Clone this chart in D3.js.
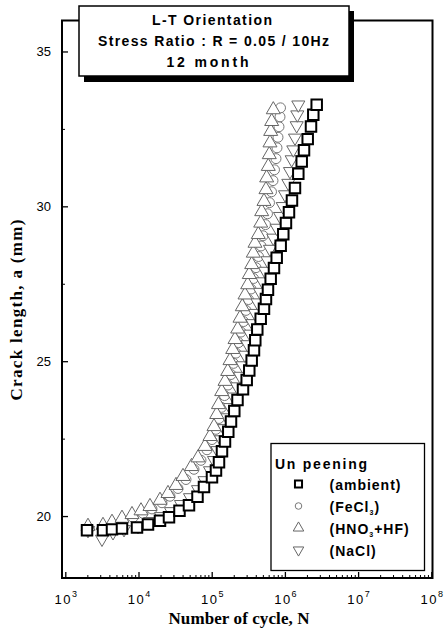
<!DOCTYPE html>
<html lang="en">

<head>
    <meta charset="UTF-8">
    <title>Crack length vs cycles</title>
    <style>
        body { margin: 0; background: #fff; }
    </style>
</head>

<body>
    <svg width="446" height="638"></svg>
    <script src="https://d3js.org/d3.v7.min.js"></script>
    <script>

        // ---- data ----
        let titleLines = ["L-T Orientation", "Stress Ratio : R = 0.05 / 10Hz", "12 month"];
        let xExponents = [3, 4, 5, 6, 7, 8];
        let yTicks = [20, 25, 30, 35];
        let yMinorTicks = [22.5, 27.5, 32.5];

        let cyclesAmbient = [1980, 3273, 4345, 5950, 9537, 13480, 19660, 26100, 36310, 48950, 63950, 78450,
            100900, 114400, 125800, 138200, 151900, 168500, 183500, 203500, 225100, 267600, 300700, 326100,
            351800, 378100, 393900, 419500, 467000, 518000, 551400, 587300, 639400, 709500, 772300, 875800,
            950500, 1034000, 1137000, 1249000, 1373000, 1525000, 1697000, 1824000, 2049000, 2273000, 2443000, 2719000];
        let lengthAmbient = [19.54, 19.54, 19.57, 19.60, 19.63, 19.73, 19.85, 19.96, 20.17, 20.35, 20.62, 20.94,
            21.25, 21.47, 21.74, 22.09, 22.41, 22.72, 23.05, 23.39, 23.75, 24.09, 24.39, 24.70,
            25.02, 25.35, 25.68, 26.02, 26.37, 26.69, 27.01, 27.31, 27.66, 28.01, 28.34, 28.73,
            29.10, 29.46, 29.81, 30.19, 30.59, 31.05, 31.45, 31.81, 32.17, 32.58, 32.96, 33.28];

        let cyclesFeCl = [2108, 3379, 4484, 6140, 8411, 11520, 15290, 20940, 26930, 34640, 44560, 57310,
            71410, 86270, 100900, 114400, 125800, 136100, 149600, 167000, 183500, 198500, 214700, 232400,
            251400, 271900, 294100, 318200, 344300, 372500, 402900, 435900, 471600, 502000, 543300, 578500,
            616000, 655900, 687600, 721000, 755800, 779800, 804700, 830400, 857400, 870900];
        let lengthFeCl = [19.60, 19.63, 19.73, 19.85, 19.96, 20.09, 20.23, 20.43, 20.64, 20.89, 21.18, 21.51,
            21.80, 22.14, 22.47, 22.80, 23.15, 23.51, 23.89, 24.23, 24.57, 24.93, 25.26, 25.60,
            25.94, 26.28, 26.64, 26.99, 27.33, 27.67, 28.02, 28.38, 28.72, 29.05, 29.41, 29.76,
            30.12, 30.47, 30.83, 31.18, 31.54, 31.89, 32.23, 32.57, 32.89, 33.18];

        let cyclesHNO = [2042, 3273, 4345, 5950, 8150, 10820, 14350, 19660, 25290, 32530, 40530, 52960,
            64970, 80950, 94800, 107500, 117000, 123800, 136900, 151900, 165400, 177800, 193600, 208200,
            226600, 243600, 261800, 285000, 310300, 326100, 351800, 369900, 390300, 433000, 467000, 481900,
            518000, 551400, 563600, 592900, 611900, 625600, 639400, 659900, 694100];
        let lengthHNO = [19.67, 19.70, 19.80, 19.93, 20.05, 20.17, 20.31, 20.51, 20.73, 20.99, 21.28, 21.60,
            21.88, 22.25, 22.57, 22.89, 23.28, 23.60, 24.02, 24.35, 24.67, 25.02, 25.38, 25.70,
            26.04, 26.39, 26.76, 27.14, 27.47, 27.80, 28.12, 28.49, 28.81, 29.09, 29.46, 29.83,
            30.16, 30.54, 30.92, 31.29, 31.67, 32.05, 32.42, 32.74, 33.12];

        let cyclesNaCl = [2042, 3172, 4484, 6339, 9843, 14350, 20290, 27790, 38060, 50520, 64970, 79720,
            94800, 107500, 120000, 134000, 147200, 161800, 177800, 198500, 221600, 243600, 263500, 285000,
            308400, 333600, 360900, 390300, 422500, 456800, 494300, 534800, 578500, 625600, 694100, 772700,
            857400, 933300, 1003000, 1113000, 1174000, 1238000, 1302000, 1374000, 1449000, 1477000, 1525000];
        let lengthNaCl = [19.54, 19.26, 19.47, 19.57, 19.67, 19.83, 19.99, 20.15, 20.38, 20.60, 20.86, 21.15,
            21.47, 21.80, 22.12, 22.47, 22.83, 23.18, 23.51, 23.85, 24.18, 24.52, 24.86, 25.20,
            25.54, 25.88, 26.22, 26.55, 26.89, 27.23, 27.57, 27.91, 28.25, 28.62, 28.98, 29.30,
            29.68, 30.00, 30.38, 30.75, 31.13, 31.51, 31.83, 32.21, 32.61, 32.96, 33.28];

        let legendTitle = "Un peening";

        let series = [
            { key: "FeCl", base: "(FeCl", sub: "3", after: ")", cycles: cyclesFeCl, lengths: lengthFeCl, symbol: d3.symbolCircle, size: 78, legendSize: 34, rot: 0, color: "#777", width: 1 },
            { key: "NaCl", base: "(NaCl)", sub: "", after: "", cycles: cyclesNaCl, lengths: lengthNaCl, symbol: d3.symbolTriangle, size: 74, legendSize: 48, rot: 180, color: "#666", width: 1 },
            { key: "HNO", base: "(HNO", sub: "3", after: "+HF)", cycles: cyclesHNO, lengths: lengthHNO, symbol: d3.symbolTriangle, size: 85, legendSize: 48, rot: 0, color: "#666", width: 1 },
            { key: "ambient", base: "(ambient)", sub: "", after: "", cycles: cyclesAmbient, lengths: lengthAmbient, symbol: d3.symbolSquare, size: 110, legendSize: 50, rot: 0, color: "#000", width: 2 }
        ];
        let legendOrder = ["ambient", "FeCl", "HNO", "NaCl"];

        // ---- layout ----
        let svg = d3.select("svg"),
            plot = { left: 62, right: 432.5, top: 20.5, bottom: 578 };

        let x = d3.scaleLog()
            .domain([1e3, 1e8])
            .range([65.3, 431.3]);
        let y = d3.scaleLinear()
            .domain([18, 36])
            .range([plot.bottom, plot.top]);

        let sans = "'Liberation Sans', Arial, sans-serif",
            serif = "'Liberation Serif', 'Times New Roman', serif";

        // x minor / major ticks (inward)
        let minorX = [];
        xExponents.slice(0, -1).forEach(e => {
            for (let k = 2; k <= 9; k++) minorX.push(k * Math.pow(10, e));
        });
        let majorX = xExponents.map(e => Math.pow(10, e));

        let gxMinor = svg.append("g")
            .attr("transform", "translate(0," + plot.bottom + ")")
            .call(d3.axisBottom(x).tickValues(minorX).tickSize(-3).tickFormat(""));
        gxMinor.select(".domain").remove();

        let gx = svg.append("g")
            .attr("transform", "translate(0," + plot.bottom + ")")
            .call(d3.axisBottom(x).tickValues(majorX).tickSize(-6).tickPadding(17).tickFormat(""));
        gx.select(".domain").remove();
        gx.selectAll(".tick line").attr("stroke-width", 1.3);
        gx.selectAll(".tick text")
            .attr("font-family", sans)
            .attr("font-size", 13)
            .attr("fill", "#000")
            .each(function (d) {
                let t = d3.select(this);
                t.append("tspan").attr("letter-spacing", 1.5).text("10");
                t.append("tspan").attr("dy", -7).attr("font-size", 9).text(Math.round(Math.log10(d)));
            });

        let gyMinor = svg.append("g")
            .attr("transform", "translate(" + plot.left + ",0)")
            .call(d3.axisLeft(y).tickValues(yMinorTicks).tickSize(-3).tickFormat(""));
        gyMinor.select(".domain").remove();

        let gy = svg.append("g")
            .attr("transform", "translate(" + plot.left + ",0)")
            .call(d3.axisLeft(y).tickValues(yTicks).tickSize(-6).tickPadding(11));
        gy.select(".domain").remove();
        gy.selectAll(".tick line").attr("stroke-width", 1.3);
        gy.selectAll(".tick text")
            .attr("font-family", sans)
            .attr("font-size", 13)
            .attr("fill", "#000");

        // frame
        svg.append("rect")
            .attr("x", plot.left)
            .attr("y", plot.top)
            .attr("width", plot.right - plot.left)
            .attr("height", plot.bottom - plot.top)
            .attr("fill", "none")
            .attr("stroke", "#000")
            .attr("stroke-width", 2);

        // data points
        series.forEach(s => {
            let pts = s.cycles.map((c, i) => ({ c: c, a: s.lengths[i] }));
            svg.append("g")
                .selectAll("path")
                .data(pts)
                .join("path")
                .attr("d", d3.symbol().type(s.symbol).size(s.size))
                .attr("transform", d => "translate(" + x(d.c) + "," + y(d.a) + ") rotate(" + s.rot + ")")
                .attr("fill", "#fff")
                .attr("stroke", s.color)
                .attr("stroke-width", s.width);
        });

        // title box with shadow
        svg.append("rect")
            .attr("x", 84).attr("y", 11)
            .attr("width", 270).attr("height", 71)
            .attr("fill", "#000");
        svg.append("rect")
            .attr("x", 79).attr("y", 6)
            .attr("width", 270).attr("height", 70)
            .attr("fill", "#fff")
            .attr("stroke", "#000")
            .attr("stroke-width", 1.5);
        let titleWidths = [120, 231, 82];
        let titleCenters = [212, 213.5, 207.5];
        titleLines.forEach((t, i) => {
            svg.append("text")
                .attr("x", titleCenters[i])
                .attr("y", 25 + i * 20.8)
                .attr("text-anchor", "middle")
                .attr("font-family", sans)
                .attr("font-weight", "bold")
                .attr("font-size", 14)
                .attr("textLength", titleWidths[i])
                .attr("lengthAdjust", "spacing")
                .text(t);
        });

        // legend
        let lg = svg.append("g");
        lg.append("rect")
            .attr("x", 271).attr("y", 443.5)
            .attr("width", 153.5).attr("height", 127)
            .attr("fill", "#fff")
            .attr("stroke", "#000")
            .attr("stroke-width", 1.3);
        lg.append("text")
            .attr("x", 275).attr("y", 468.5)
            .attr("font-family", sans)
            .attr("font-weight", "bold")
            .attr("font-size", 14)
            .attr("textLength", 92)
            .attr("lengthAdjust", "spacing")
            .text(legendTitle);
        legendOrder.forEach((k, i) => {
            let s = series.find(d => d.key === k),
                cy = 484 + i * 22;
            lg.append("path")
                .attr("d", d3.symbol().type(s.symbol).size(s.legendSize))
                .attr("transform", "translate(298.5," + cy + ") rotate(" + s.rot + ")")
                .attr("fill", "#fff")
                .attr("stroke", s.color)
                .attr("stroke-width", s.width);
            let t = lg.append("text")
                .attr("x", 329.5).attr("y", cy + 5.5)
                .attr("font-family", sans)
                .attr("font-weight", "bold")
                .attr("font-size", 14)
                .attr("letter-spacing", 1);
            t.append("tspan").text(s.base);
            if (s.sub) {
                t.append("tspan").attr("dy", 3).attr("font-size", 7).text(s.sub);
                t.append("tspan").attr("dy", -3).text(s.after);
            }
        });

        // axis titles
        svg.append("text")
            .attr("x", 239).attr("y", 624)
            .attr("text-anchor", "middle")
            .attr("font-family", serif)
            .attr("font-weight", "bold")
            .attr("font-size", 17)
            .attr("textLength", 141)
            .attr("lengthAdjust", "spacing")
            .text("Number of cycle, N");

        svg.append("text")
            .attr("transform", "translate(22,310) rotate(-90)")
            .attr("text-anchor", "middle")
            .attr("font-family", serif)
            .attr("font-weight", "bold")
            .attr("font-size", 17)
            .attr("textLength", 181)
            .attr("lengthAdjust", "spacing")
            .text("Crack length, a (mm)");

    </script>

</body>

</html>
